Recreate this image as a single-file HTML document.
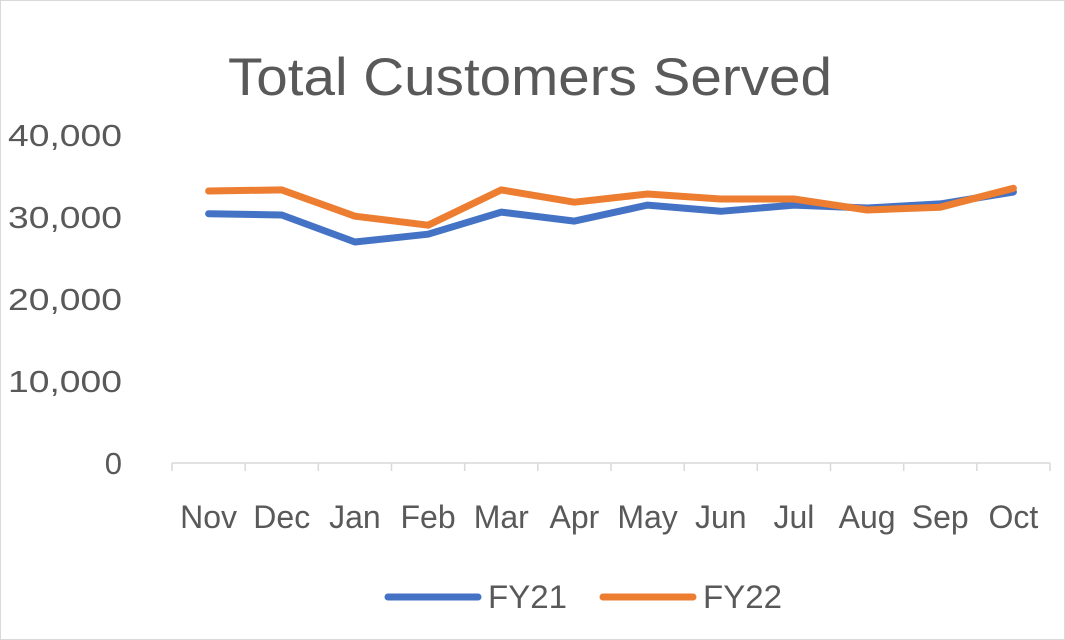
<!DOCTYPE html>
<html><head><meta charset="utf-8"><style>
html,body{margin:0;padding:0;background:#fff;}
svg{display:block;font-family:"Liberation Sans",Calibri,sans-serif;}
</style></head><body>
<svg id="chart" width="1065" height="640" viewBox="0 0 1065 640">
<rect x="0.5" y="0.5" width="1064" height="639" fill="#fff" stroke="#d9d9d9"/>
<text x="228" y="95" font-size="53" textLength="604" lengthAdjust="spacingAndGlyphs" fill="#595959">Total Customers Served</text>
<g id="yaxis"></g>
<g id="xaxis"></g>
<g id="series"></g>
<g>
<line x1="388" y1="597" x2="478" y2="597" stroke="#4472C4" stroke-width="7" stroke-linecap="round"/>
<text x="488" y="608" font-size="32" textLength="79" lengthAdjust="spacingAndGlyphs" fill="#595959">FY21</text>
<line x1="603" y1="597" x2="693" y2="597" stroke="#ED7D31" stroke-width="7" stroke-linecap="round"/>
<text x="703" y="608" font-size="32" textLength="79" lengthAdjust="spacingAndGlyphs" fill="#595959">FY22</text>
</g>
</svg>
<script>
const categories=["Nov","Dec","Jan","Feb","Mar","Apr","May","Jun","Jul","Aug","Sep","Oct"];
const fy21=[30400,30250,26950,27900,30600,29500,31450,30700,31450,31100,31600,33050];
const fy22=[33170,33300,30100,29000,33300,31800,32800,32200,32200,30850,31200,33500];
const yTicks=[0,10000,20000,30000,40000];
const yTickLabels=["0","10,000","20,000","30,000","40,000"];
const NS="http://www.w3.org/2000/svg";
const x0=172,x1=1050,y0=463,y1=135,yMax=40000;
const bw=(x1-x0)/categories.length;
function xs(i){return x0+bw*(i+0.5);}
function ys(v){return y0-(v/yMax)*(y0-y1);}
function mk(t,a,p){const e=document.createElementNS(NS,t);for(const k in a)e.setAttribute(k,a[k]);p.appendChild(e);return e;}
const ya=document.getElementById('yaxis'),xa=document.getElementById('xaxis'),sg=document.getElementById('series');
yTicks.forEach((v,i)=>{
 const a={x:122,y:ys(v)+11,'text-anchor':'end','font-size':31,fill:'#595959'};
 if(yTickLabels[i].length>1){a.textLength=114;a.lengthAdjust='spacingAndGlyphs';}
 const t=mk('text',a,ya);
 t.textContent=yTickLabels[i];
 
 
});
const ax=mk('line',{x1:x0,y1:y0,x2:x1,y2:y0,stroke:'#d9d9d9','stroke-width':1.5},xa);


for(let i=0;i<=categories.length;i++){
 const tk=mk('line',{x1:x0+bw*i,y1:y0,x2:x0+bw*i,y2:y0+8,stroke:'#d9d9d9','stroke-width':1.5},xa);
 
 
}
categories.forEach((c,i)=>{
 const t=mk('text',{x:xs(i),y:528,'text-anchor':'middle','font-size':32,fill:'#595959'},xa);
 t.textContent=c;
 
 
});
function line(data,color,name){
 const d=data.map((v,i)=>(i?'L':'M')+xs(i).toFixed(1)+','+ys(v).toFixed(1)).join(' ');
 const p=mk('path',{d:d,fill:'none',stroke:color,'stroke-width':7,'stroke-linejoin':'round','stroke-linecap':'round'},sg);
 
 
}
line(fy21,'#4472C4','fy21-line');
line(fy22,'#ED7D31','fy22-line');
</script>
</body></html>
